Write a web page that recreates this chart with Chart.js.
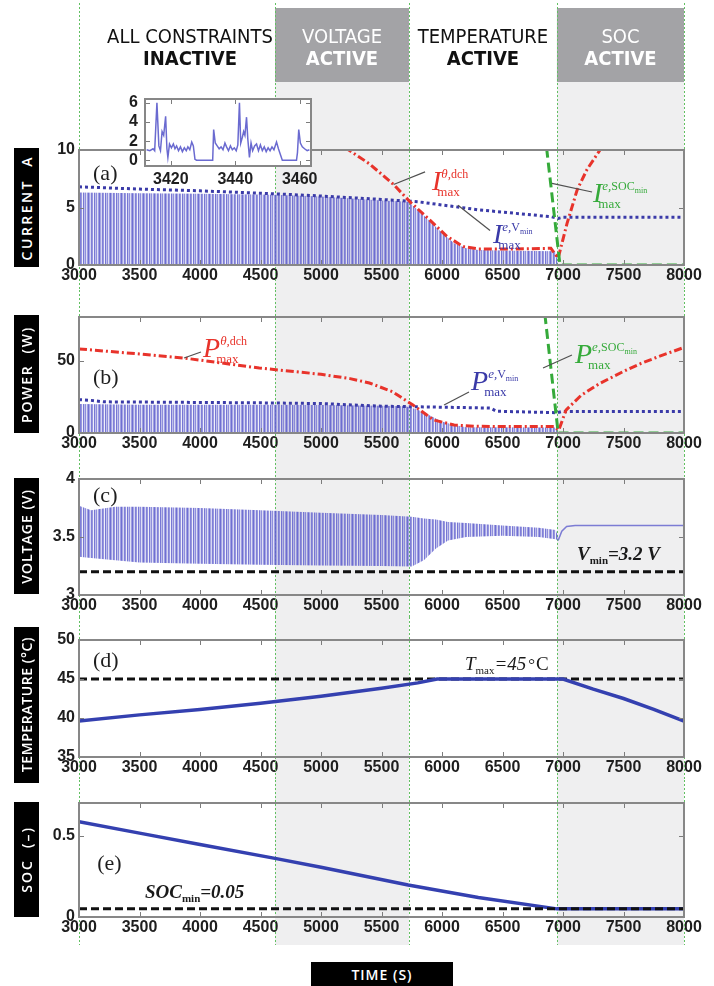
<!DOCTYPE html>
<html>
<head>
<meta charset="utf-8">
<script src="https://cdn.jsdelivr.net/npm/chart.js@4.4.1/dist/chart.umd.min.js"></script>
<style>
  body { margin: 0; width: 714px; height: 986px; position: relative; background: #fff; overflow: hidden; }
  canvas { position: absolute; left: 0; }
  .ylab { position: absolute; left: 14px; width: 25px; background: #000; color: #fff;
          display: flex; align-items: center; justify-content: center; }
  .ylab span { writing-mode: vertical-rl; transform: rotate(180deg); white-space: nowrap;
               font: 600 14px "Open Sans", sans-serif; }
  #timeLab { position: absolute; left: 311px; top: 962px; width: 142px; height: 24px; background: #000;
             color: #fff; font: 600 14px "Open Sans", sans-serif; letter-spacing: 1px;
             display: flex; align-items: center; justify-content: center; }
</style>
</head>
<body>
<canvas id="c1" width="714" height="290" style="top:0"></canvas>
<canvas id="c2" width="714" height="165" style="top:290px"></canvas>
<canvas id="c3" width="714" height="162" style="top:455px"></canvas>
<canvas id="c4" width="714" height="163" style="top:617px"></canvas>
<canvas id="c5" width="714" height="206" style="top:780px"></canvas>
<canvas id="inset" width="230" height="110" style="left:95px;top:82px"></canvas>

<div class="ylab" style="top:148px;height:119px"><span style="letter-spacing:2.5px">CURRENT&nbsp;&nbsp;A</span></div>
<div class="ylab" style="top:315px;height:118px"><span style="letter-spacing:1.8px">POWER&nbsp;&nbsp;(W)</span></div>
<div class="ylab" style="top:478px;height:116px"><span style="letter-spacing:1px">VOLTAGE&nbsp;(V)</span></div>
<div class="ylab" style="top:627px;height:156px"><span style="letter-spacing:0.6px">TEMPERATURE&nbsp;(°C)</span></div>
<div class="ylab" style="top:802px;height:115px"><span style="letter-spacing:2px">SOC&nbsp;&nbsp;(–)</span></div>
<div id="timeLab">TIME (S)</div>

<script>
// constraint regions (s)
const boundaries = [3000, 4620, 5727, 6950, 8000];
const shaded = [false, true, false, true];
const headerTop = ['ALL CONSTRAINTS', 'VOLTAGE', 'TEMPERATURE', 'SOC'];
const headerBottom = ['INACTIVE', 'ACTIVE', 'ACTIVE', 'ACTIVE'];

const timeTicks = [3000, 3500, 4000, 4500, 5000, 5500, 6000, 6500, 7000, 7500, 8000];
const currentTicks = [0, 5, 10];
const powerTicks = [0, 50];
const voltageTicks = [3, 3.5, 4];
const tempTicks = [35, 40, 45, 50];
const socTicks = [0, 0.5];
const insetTimeTicks = [3420, 3440, 3460];
const insetCurrentTicks = [0, 2, 4, 6];

// (a) current, A
const currentEnvT = [3000, 3500, 4000, 4600, 5000, 5500, 5720, 5800, 5900, 6000, 6100, 6200, 6300, 6600, 6940, 6960];
const currentEnvA = [6.3, 6.25, 6.2, 6.1, 5.95, 5.6, 5.5, 4.8, 3.8, 2.8, 1.9, 1.45, 1.3, 1.25, 1.2, 0];
const iThetaT = [5100, 5230, 5400, 5600, 5735, 5900, 6040, 6175, 6300, 6600, 6900, 6960, 7033, 7116, 7198, 7306, 7400];
const iThetaA = [11.2, 10, 8.8, 7.0, 5.5, 3.9, 2.5, 1.6, 1.4, 1.4, 1.45, 0.6, 3.6, 6.5, 8.3, 10, 11.5];
const iVminT = [3000, 3500, 4000, 4600, 5000, 5500, 5800, 6300, 6600, 6900, 6960, 7000, 8000];
const iVminA = [6.8, 6.6, 6.45, 6.2, 6.0, 5.7, 5.5, 4.8, 4.5, 4.2, 4.05, 4.15, 4.15];
const iSocT = [6850, 6975, 8000];
const iSocA = [11.5, 0, 0];

// inset: current detail, A
const insetT = [3412.5, 3413.5, 3414.5, 3415.0, 3415.7, 3416.3, 3416.8, 3417.3, 3417.8, 3418.4, 3418.8, 3419.1,
  3419.6, 3420.2, 3420.8, 3421.3, 3421.8, 3422.4, 3423.0, 3423.6, 3424.2, 3424.8, 3425.3, 3425.9, 3426.5,
  3427.0, 3427.5, 3428.0, 3433.0, 3433.3, 3433.8, 3434.4, 3435.0, 3435.6, 3436.2, 3436.8, 3437.3, 3437.9,
  3438.5, 3439.1, 3439.7, 3440.3, 3440.8, 3441.3, 3441.7, 3442.2, 3442.6, 3443.0, 3443.5, 3443.9, 3444.4,
  3444.9, 3445.4, 3446.0, 3446.6, 3447.2, 3447.8, 3448.4, 3449.0, 3449.6, 3450.2, 3450.8, 3451.4, 3452.0,
  3452.8, 3453.4, 3454.0, 3454.6, 3459.0, 3459.3, 3459.7, 3460.2, 3460.8, 3461.5, 3462.3, 3463.0];
const insetI = [1.1, 1.0, 1.2, 1.0, 6.0, 1.5, 1.0, 3.0, 2.6, 4.6, 1.2, 0.3,
  1.7, 1.3, 1.7, 1.2, 1.5, 1.0, 1.4, 0.9, 1.3, 1.0, 1.4, 1.1, 1.9,
  1.5, 0.1, 0.0, 0.0, 3.2, 1.8, 1.5, 1.2, 1.4, 1.1, 1.8, 1.4, 1.0,
  1.5, 1.1, 1.3, 1.0, 1.6, 6.0, 1.8, 2.4, 3.0, 2.6, 4.5, 2.2, 0.3,
  1.8, 1.0, 1.5, 1.7, 1.0, 1.6, 1.0, 1.4, 0.9, 1.3, 1.0, 1.4, 1.1,
  1.9, 1.2, 0.6, 0.0, 0.0, 0.8, 3.2, 1.8, 1.4, 1.2, 1.0, 1.1];

// (b) power, W
const powerEnvT = [3000, 3500, 4500, 5000, 5500, 5700, 5800, 5900, 6000, 6100, 6200, 6940, 6960];
const powerEnvW = [20, 19.5, 19.5, 19.3, 18.8, 18.5, 16, 12, 8, 5.5, 4, 3.8, 0];
const pThetaT = [3000, 3500, 3870, 4490, 5000, 5240, 5400, 5590, 5760, 5930, 6100, 6270, 6600, 6925, 6965, 7025, 7150, 7300, 7500, 7645, 7800, 8000];
const pThetaW = [58, 54.5, 51.7, 44.8, 40.5, 37.5, 34.5, 28.5, 19.3, 9, 5.5, 4.6, 4.5, 4.5, 2, 15.8, 26, 34, 42.5, 48, 53, 59];
const pVminT = [3000, 3100, 3200, 4500, 5000, 5500, 6000, 6400, 6450, 6950, 6990, 8000];
const pVminW = [23, 22.5, 21.5, 20.8, 20.3, 18.5, 17.8, 17.2, 15, 14, 14.8, 14.8];
const pSocT = [6850, 6960, 8000];
const pSocW = [82, 0, 0];

// (c) voltage, V
const vBandT = [3000, 3100, 3300, 3500, 4000, 4500, 5000, 5500, 5750, 5850, 5950, 6050, 6200, 6500, 6800, 6940, 6960];
const vUpper = [3.77, 3.73, 3.76, 3.76, 3.75, 3.73, 3.71, 3.69, 3.675, 3.66, 3.65, 3.63, 3.62, 3.6, 3.58, 3.56, 3.5];
const vLower = [3.33, 3.32, 3.3, 3.28, 3.27, 3.26, 3.255, 3.25, 3.245, 3.3, 3.4, 3.47, 3.5, 3.51, 3.5, 3.48, 3.47];
const vRestT = [6960, 6990, 7030, 7100, 8000];
const vRestV = [3.47, 3.55, 3.59, 3.6, 3.6];
const vMin = 3.2;

// (d) temperature, °C
const tempT = [3000, 3500, 4000, 4500, 5000, 5500, 5800, 5960, 7000, 7250, 7500, 7750, 8000];
const tempC = [39.6, 40.4, 41.1, 41.9, 42.8, 43.8, 44.5, 45, 45, 43.7, 42.5, 41.1, 39.6];
const tMax = 45;

// (e) state of charge
const socT = [3000, 3500, 4000, 4620, 5000, 5720, 6300, 6950, 8000];
const socV = [0.585, 0.515, 0.445, 0.36, 0.305, 0.196, 0.12, 0.05, 0.05];
const socMin = 0.05;

const pts = (t, v) => t.map((x, i) => ({ x, y: v[i] }));
const SERIF = '"Liberation Serif", "Times New Roman", serif';
const NARROW = '"Liberation Sans Narrow", "DejaVu Sans Condensed", sans-serif';
const tickFont = { family: 'Liberation Sans', size: 16, weight: 'bold' };
const RED = '#e8332b', BLUE = '#3a3aa8', GREEN = '#35aa3a', SOLID = '#3440b0';

// vertical stripe texture standing in for the dense drive-cycle spikes
function hatch(canvasId) {
  const tile = document.createElement('canvas');
  const cols = [0.9, 0.55, 0.25, 0.8, 0.65, 0.1, 0.85, 0.4, 0.7, 0.2, 0.6];
  tile.width = cols.length; tile.height = 1;
  const t = tile.getContext('2d');
  cols.forEach((a, i) => { t.fillStyle = `rgba(95,95,205,${a})`; t.fillRect(i, 0, 1, 1); });
  return document.getElementById(canvasId).getContext('2d').createPattern(tile, 'repeat');
}

const line = (t, v, color, dash, width) => ({
  data: pts(t, v), borderColor: color, borderWidth: width || 3, borderDash: dash || [],
  fill: false, pointRadius: 0
});
const band = (t, v, pattern, fill) => ({
  data: pts(t, v), borderWidth: 0, borderColor: 'rgba(0,0,0,0)', backgroundColor: pattern,
  fill: fill, pointRadius: 0
});

const IT = s => `italic ${s}px ${SERIF}`;
const RM = s => `${s}px ${SERIF}`;
const BI = s => `italic bold ${s}px ${SERIF}`;

function maxLabel(base, sup) {
  return [{ t: base, font: IT(28), mark: true }]
    .concat(sup.map(r => ({ t: r.t, font: r.font, dy: -12 + (r.dy || 0) })))
    .concat([{ t: 'max', font: RM(13), at: true, dx: -4, dy: 6 }]);
}

function drawRuns(ctx, px, py, runs, color) {
  let x = px, mark = px;
  ctx.fillStyle = color;
  ctx.textAlign = 'left';
  ctx.textBaseline = 'alphabetic';
  for (const r of runs) {
    if (r.at) x = mark;
    x += r.dx || 0;
    ctx.font = r.font;
    ctx.fillText(r.t, x, py + (r.dy || 0));
    x += ctx.measureText(r.t).width;
    if (r.mark) mark = x;
  }
}

function drawHeader(chart) {
  const ctx = chart.ctx, xs = chart.scales.x;
  ctx.textAlign = 'center';
  ctx.textBaseline = 'alphabetic';
  for (let i = 0; i < headerTop.length; i++) {
    const x0 = xs.getPixelForValue(boundaries[i]), x1 = xs.getPixelForValue(boundaries[i + 1]);
    let cx = (x0 + x1) / 2;
    if (shaded[i]) {
      ctx.fillStyle = '#a3a3a6';
      ctx.fillRect(x0, 8, x1 - x0, 74);
      ctx.fillStyle = '#fff';
    } else {
      ctx.fillStyle = '#111';
      if (i === 0) cx += 13;
    }
    ctx.font = `20px ${NARROW}`;
    ctx.fillText(headerTop[i], cx, 43);
    ctx.font = `bold 20px ${NARROW}`;
    ctx.fillText(headerBottom[i], cx, 65);
  }
}

function inwardTicks(ctx, xs, ys, area) {
  ctx.strokeStyle = '#7c7c7c';
  ctx.lineWidth = 1;
  ctx.beginPath();
  xs.ticks.forEach(t => {
    const p = Math.round(xs.getPixelForValue(t.value)) + 0.5;
    ctx.moveTo(p, area.bottom); ctx.lineTo(p, area.bottom - 5);
    ctx.moveTo(p, area.top); ctx.lineTo(p, area.top + 5);
  });
  ys.ticks.forEach(t => {
    const p = Math.round(ys.getPixelForValue(t.value)) + 0.5;
    ctx.moveTo(area.left, p); ctx.lineTo(area.left + 5, p);
    ctx.moveTo(area.right, p); ctx.lineTo(area.right - 5, p);
  });
  ctx.stroke();
  ctx.strokeStyle = '#878787';
  ctx.lineWidth = 2;
  ctx.strokeRect(area.left, area.top, area.right - area.left, area.bottom - area.top);
}

function panelPlugin(o) {
  return {
    id: 'panel',
    beforeDraw(chart) {
      const ctx = chart.ctx, xs = chart.scales.x;
      const top = o.bandTop || 0, bottom = o.bandBottom || chart.height;
      ctx.save();
      ctx.fillStyle = '#efeff0';
      for (let i = 0; i < shaded.length; i++) {
        if (!shaded[i]) continue;
        const x0 = xs.getPixelForValue(boundaries[i]), x1 = xs.getPixelForValue(boundaries[i + 1]);
        ctx.fillRect(x0, top, x1 - x0, bottom - top);
      }
      if (o.header) drawHeader(chart);
      ctx.restore();
    },
    beforeDatasetsDraw(chart) {
      const ctx = chart.ctx, xs = chart.scales.x;
      const top = o.lineTop || 0, bottom = o.bandBottom || chart.height;
      ctx.save();
      ctx.strokeStyle = '#62c062';
      ctx.lineWidth = 1;
      ctx.setLineDash([2, 2]);
      ctx.beginPath();
      boundaries.forEach(b => {
        const p = Math.round(xs.getPixelForValue(b)) + 0.5;
        ctx.moveTo(p, top); ctx.lineTo(p, bottom);
      });
      ctx.stroke();
      ctx.restore();
    },
    afterDatasetsDraw(chart) {
      const ctx = chart.ctx, xs = chart.scales.x, ys = chart.scales.y;
      ctx.save();
      inwardTicks(ctx, xs, ys, chart.chartArea);
      (o.notes || []).forEach(n => {
        if (n.leader) {
          ctx.strokeStyle = '#505050';
          ctx.lineWidth = 1.2;
          ctx.beginPath();
          ctx.moveTo(xs.getPixelForValue(n.leader[0][0]), ys.getPixelForValue(n.leader[0][1]));
          ctx.lineTo(xs.getPixelForValue(n.leader[1][0]), ys.getPixelForValue(n.leader[1][1]));
          ctx.stroke();
        }
        drawRuns(ctx, xs.getPixelForValue(n.x), ys.getPixelForValue(n.y), n.runs, n.color || '#1a1a1a');
      });
      ctx.restore();
    }
  };
}

function makePanel(id, o) {
  return new Chart(document.getElementById(id), {
    type: 'line',
    data: { datasets: o.datasets },
    options: {
      responsive: false,
      animation: false,
      events: [],
      layout: { padding: { top: o.padTop, right: 30, bottom: o.padBottom || 0, left: 0 } },
      plugins: { legend: { display: false }, tooltip: { enabled: false } },
      elements: { point: { radius: 0 }, line: { tension: 0 } },
      scales: {
        x: {
          type: 'linear', min: 3000, max: 8000,
          grid: { display: false, drawTicks: false }, border: { display: false },
          afterBuildTicks: s => { s.ticks = timeTicks.map(v => ({ value: v })); },
          afterFit: s => { s.height = o.xHeight; },
          ticks: { font: tickFont, color: '#1e1e1e', padding: 1, autoSkip: false, maxRotation: 0, callback: v => String(v) }
        },
        y: {
          type: 'linear', min: o.yMin, max: o.yMax,
          grid: { display: false, drawTicks: false }, border: { display: false },
          afterBuildTicks: s => { s.ticks = o.yTicks.map(v => ({ value: v })); },
          afterFit: s => { s.width = 79; },
          ticks: { font: tickFont, color: '#1e1e1e', padding: 4, autoSkip: false, callback: v => String(v) }
        }
      }
    },
    plugins: [panelPlugin(o)]
  });
}

const letter = (s, x, y) => ({ x, y, runs: [{ t: s, font: RM(22) }], color: '#1e1e1e' });

// (a) current
makePanel('c1', {
  padTop: 150, xHeight: 25, yMin: 0, yMax: 10, yTicks: currentTicks,
  header: true, bandTop: 8, lineTop: 3,
  datasets: [
    line(iSocT, iSocA, GREEN, [10, 5]),
    line(iThetaT, iThetaA, RED, [8, 3, 2, 3]),
    line(iVminT, iVminA, BLUE, [3, 3]),
    band(currentEnvT, currentEnvA, hatch('c1'), 'origin')
  ],
  notes: [
    letter('(a)', 3116, 7.4),
    { x: 5917, y: 6.5, color: RED, leader: [[5600, 7.0], [5860, 8.1]],
      runs: maxLabel('I', [{ t: 'θ,', font: IT(13) }, { t: 'dch', font: RM(12) }]) },
    { x: 6421, y: 1.9, color: BLUE, leader: [[6132, 5.2], [6397, 3.0]],
      runs: maxLabel('I', [{ t: 'e,', font: IT(13) }, { t: 'V', font: RM(12) }, { t: 'min', font: RM(8), dy: 3 }]) },
    { x: 7248, y: 5.5, color: GREEN, leader: [[6909, 7.1], [7240, 6.35]],
      runs: maxLabel('I', [{ t: 'e,', font: IT(13) }, { t: 'SOC', font: RM(12) }, { t: 'min', font: RM(8), dy: 3 }]) }
  ]
});

// (b) power
makePanel('c2', {
  padTop: 27, xHeight: 22, yMin: 0, yMax: 80, yTicks: powerTicks,
  datasets: [
    line(pSocT, pSocW, GREEN, [10, 5]),
    line(pThetaT, pThetaW, RED, [8, 3, 2, 3]),
    line(pVminT, pVminW, BLUE, [3, 3]),
    band(powerEnvT, powerEnvW, hatch('c2'), 'origin')
  ],
  notes: [
    letter('(b)', 3116, 33.8),
    { x: 4025, y: 52.4, color: RED, leader: [[3868, 51.7], [4008, 55.9]],
      runs: maxLabel('P', [{ t: 'θ,', font: IT(13) }, { t: 'dch', font: RM(12) }]) },
    { x: 6240, y: 29.7, color: BLUE, leader: [[6017, 19.3], [6223, 28.3]],
      runs: maxLabel('P', [{ t: 'e,', font: IT(13) }, { t: 'V', font: RM(12) }, { t: 'min', font: RM(8), dy: 3 }]) },
    { x: 7099, y: 48.3, color: GREEN, leader: [[6835, 44.8], [7074, 53.8]],
      runs: maxLabel('P', [{ t: 'e,', font: IT(13) }, { t: 'SOC', font: RM(12) }, { t: 'min', font: RM(8), dy: 3 }]) }
  ]
});

// (c) voltage
makePanel('c3', {
  padTop: 24, xHeight: 22, yMin: 3, yMax: 4, yTicks: voltageTicks,
  datasets: [
    line(vRestT, vRestV, '#7c7cd4', [], 1.5),
    line([3000, 8000], [vMin, vMin], '#111', [8, 4]),
    band(vBandT, vUpper, hatch('c3'), '+1'),
    band(vBandT, vLower, 'rgba(0,0,0,0)', false)
  ],
  notes: [
    letter('(c)', 3116, 3.80),
    { x: 7116, y: 3.30, runs: [{ t: 'V', font: BI(19) }, { t: 'min', font: `bold 11px ${SERIF}`, dy: 4 }, { t: '=3.2 V', font: BI(19) }] }
  ]
});

// (d) temperature
makePanel('c4', {
  padTop: 23, xHeight: 23, yMin: 35, yMax: 50, yTicks: tempTicks,
  datasets: [
    line(tempT, tempC, SOLID, [], 3.5),
    line([3000, 8000], [tMax, tMax], '#111', [8, 4])
  ],
  notes: [
    letter('(d)', 3116, 46.5),
    { x: 6190, y: 46.15, runs: [{ t: 'T', font: IT(19) }, { t: 'max', font: RM(11), dy: 4 }, { t: '=45', font: IT(19) },
      { t: '°', font: RM(17), dx: 2 }, { t: 'C', font: RM(19), dx: 1 }] }
  ]
});

// (e) state of charge
makePanel('c5', {
  padTop: 23, xHeight: 22, padBottom: 47, yMin: 0, yMax: 0.7, yTicks: socTicks, bandBottom: 165,
  datasets: [
    line([3000, 8000], [socMin, socMin], '#111', [8, 4]),
    line(socT, socV, SOLID, [], 3.5)
  ],
  notes: [
    letter('(e)', 3150, 0.288),
    { x: 3545, y: 0.117, runs: [{ t: 'SOC', font: BI(19) }, { t: 'min', font: `bold 11px ${SERIF}`, dy: 4 }, { t: '=0.05', font: BI(19) }] }
  ]
});

// inset: zoom on the current profile
new Chart(document.getElementById('inset'), {
  type: 'line',
  data: { datasets: [line(insetT, insetI, '#6a6ad0', [], 1.5)] },
  options: {
    responsive: false,
    animation: false,
    events: [],
    layout: { padding: { top: 17, right: 14, bottom: 6, left: 0 } },
    plugins: { legend: { display: false }, tooltip: { enabled: false } },
    elements: { point: { radius: 0 }, line: { tension: 0 } },
    scales: {
      x: {
        type: 'linear', min: 3412, max: 3463.5,
        grid: { display: false, drawTicks: false }, border: { display: false },
        afterBuildTicks: s => { s.ticks = insetTimeTicks.map(v => ({ value: v })); },
        afterFit: s => { s.height = 20; },
        ticks: { font: tickFont, color: '#1e1e1e', padding: 4, autoSkip: false, maxRotation: 0, callback: v => String(v) }
      },
      y: {
        type: 'linear', min: -0.6, max: 6.4,
        grid: { display: false, drawTicks: false }, border: { display: false },
        afterBuildTicks: s => { s.ticks = insetCurrentTicks.map(v => ({ value: v })); },
        afterFit: s => { s.width = 50; },
        ticks: { font: tickFont, color: '#1e1e1e', padding: 7, autoSkip: false, callback: v => String(v) }
      }
    }
  },
  plugins: [{
    id: 'insetFrame',
    beforeDraw(chart) {
      const a = chart.chartArea;
      chart.ctx.save();
      chart.ctx.fillStyle = '#fff';
      chart.ctx.fillRect(a.left, a.top, a.right - a.left, a.bottom - a.top);
      chart.ctx.restore();
    },
    afterDatasetsDraw(chart) {
      chart.ctx.save();
      inwardTicks(chart.ctx, chart.scales.x, chart.scales.y, chart.chartArea);
      chart.ctx.restore();
    }
  }]
});
</script>
</body>
</html>
